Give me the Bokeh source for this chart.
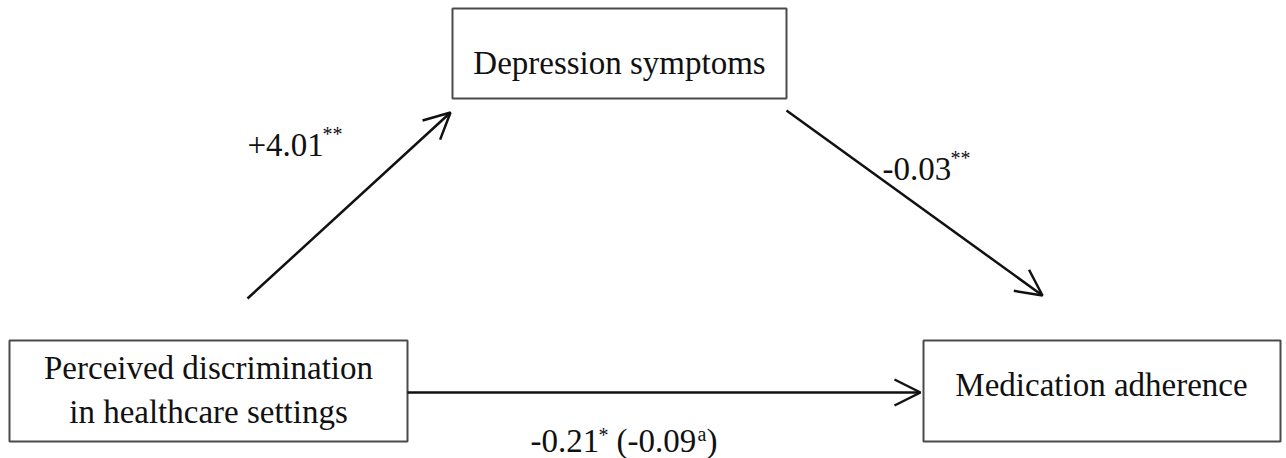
from bokeh.plotting import figure
from bokeh.models import Range1d, Arrow, OpenHead, ColumnDataSource
from bokeh.core.properties import value
from bokeh.embed import file_html
from bokeh.resources import INLINE

# ---------------- data ----------------
node_lines = ["Depression symptoms",
              "Perceived discrimination", "in healthcare settings",
              "Medication adherence"]
path_coefs = ["+4.01", "-0.03", "-0.21"]
path_sig = ["**", "**", "*"]
indirect_coef = "(-0.09"
indirect_note = "a"
close_paren = ")"

# ---------------- layout (image pixel coordinates) ----------------
W, H = 1286, 458
BIG, SMALL = 33, 20
# vertical correction so that the glyph baseline lands on the wanted pixel row
BIG_SHIFT, SMALL_SHIFT = 11, 7

box_left = [452, 9, 923]
box_right = [786, 407, 1280]
box_top = [8, 340, 340]
box_bottom = [98, 441, 441]

line_x = [619, 208, 208, 1101]
line_y = [73, 378, 422, 395]

arrow_x0 = [247, 786, 407]
arrow_y0 = [298, 110, 392]
arrow_x1 = [450, 1042, 920]
arrow_y1 = [112, 295, 392]

coef_x = [247, 882, 530]
coef_y = [155, 179, 451]
sig_x = [322, 950, 598]
sig_y = [140, 164, 441]

FONT = value("Liberation Serif")
INK = "#111111"

p = figure(width=W, height=H,
           x_range=Range1d(0, W), y_range=Range1d(H, 0),
           x_axis_type=None, y_axis_type=None,
           output_backend="svg", toolbar_location=None, min_border=0)
p.grid.visible = False
p.outline_line_color = None
p.background_fill_color = "white"
p.border_fill_color = "white"

# boxes
p.quad(left=box_left, right=box_right, top=box_top, bottom=box_bottom,
       fill_color="white", line_color="#4a4a4a", line_width=2)

# node texts
p.text(x=line_x, y=[v - BIG_SHIFT for v in line_y], text=node_lines, text_font=FONT,
       text_font_size=f"{BIG}px", text_color=INK,
       text_align="center", text_baseline="alphabetic")

# arrows
asrc = ColumnDataSource(dict(x0=arrow_x0, y0=arrow_y0, x1=arrow_x1, y1=arrow_y1))
p.add_layout(Arrow(x_start="x0", y_start="y0", x_end="x1", y_end="y1", source=asrc,
                   line_color=INK, line_width=2.5,
                   end=OpenHead(size=26, line_color=INK, line_width=2.5)))

# coefficients
p.text(x=coef_x, y=[v - BIG_SHIFT for v in coef_y], text=path_coefs, text_font=FONT,
       text_font_size=f"{BIG}px", text_color=INK,
       text_align="left", text_baseline="alphabetic")
p.text(x=sig_x, y=[v - SMALL_SHIFT for v in sig_y], text=path_sig, text_font=FONT,
       text_font_size=f"{SMALL}px", text_color=INK,
       text_align="left", text_baseline="alphabetic")

# indirect part of bottom label
p.text(x=[616], y=[coef_y[2] - BIG_SHIFT], text=[indirect_coef], text_font=FONT,
       text_font_size=f"{BIG}px", text_color=INK,
       text_align="left", text_baseline="alphabetic")
p.text(x=[697], y=[coef_y[2] - 11 - SMALL_SHIFT], text=[indirect_note], text_font=FONT,
       text_font_size=f"{SMALL}px", text_color=INK,
       text_align="left", text_baseline="alphabetic")
p.text(x=[706], y=[coef_y[2] - BIG_SHIFT], text=[close_paren], text_font=FONT,
       text_font_size=f"{BIG}px", text_color=INK,
       text_align="left", text_baseline="alphabetic")

open("out.html", "w").write(file_html(p, INLINE))
